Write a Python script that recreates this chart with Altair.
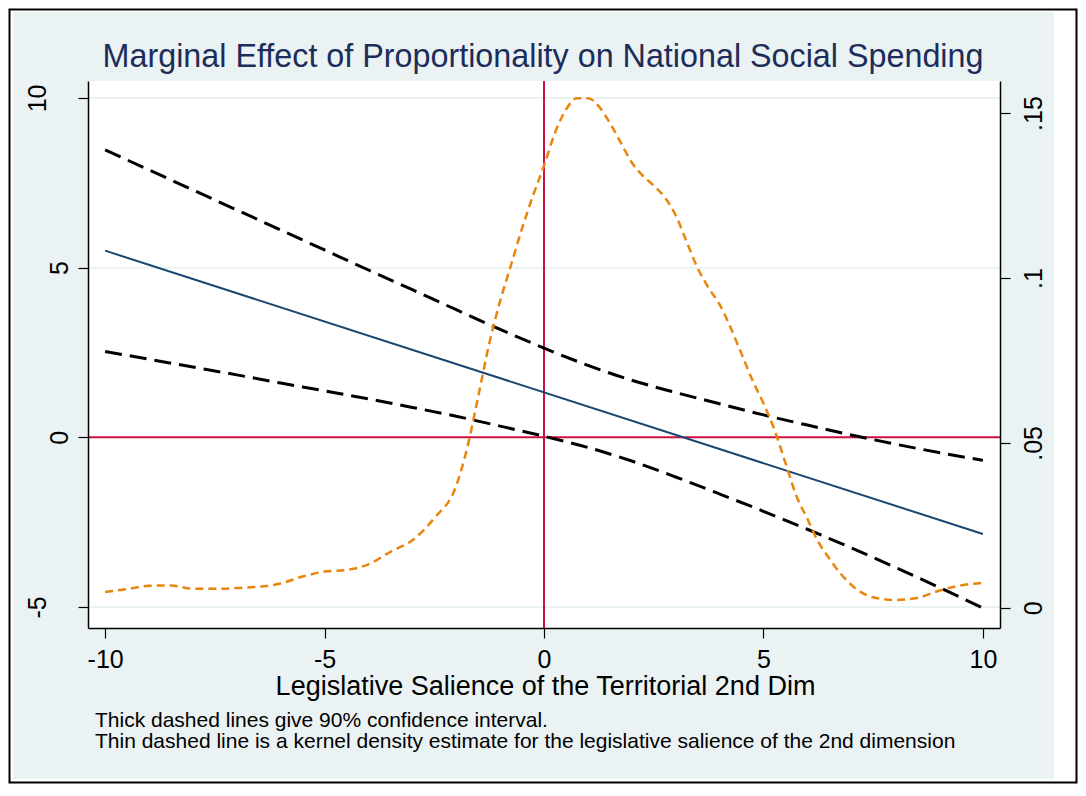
import altair as alt
import pandas as pd

# ---------------- data ----------------
ci_x = [-10, -9, -8, -7, -6, -5, -4, -3, -2, -1, 0, 1, 2, 3, 4, 5, 6, 7, 8, 9, 10]
ci_upper = [8.47, 7.88, 7.29, 6.70, 6.11, 5.52, 4.93, 4.35, 3.76, 3.18, 2.63,
            2.12, 1.68, 1.32, 0.99, 0.66, 0.36, 0.07, -0.20, -0.45, -0.68]
ci_lower = [2.53, 2.30, 2.07, 1.84, 1.60, 1.37, 1.13, 0.88, 0.62, 0.33, 0.03,
            -0.30, -0.70, -1.17, -1.67, -2.18, -2.71, -3.26, -3.83, -4.42, -5.03]

me_x = [-10, 10]
me_y = [5.50, -2.85]

dens_x = [-10, -9.5, -9, -8.5, -8, -7.5, -7, -6.5, -6, -5.5, -5, -4.5, -4, -3.5, -3, -2.5, -2,
          -1.75, -1.5, -1.25, -1, -0.75, -0.5, -0.25, 0, 0.25, 0.5, 0.75, 1, 1.25, 1.5, 1.75,
          2, 2.25, 2.5, 2.75, 3, 3.25, 3.5, 3.75, 4, 4.25, 4.5, 4.75, 5, 5.25, 5.5, 5.75,
          6, 6.25, 6.5, 6.75, 7, 7.5, 8, 8.5, 9, 9.5, 10]
dens_y = [0.0048, 0.0057, 0.0067, 0.0068, 0.0058, 0.0058, 0.0060, 0.0064, 0.0074, 0.0095,
          0.0110, 0.0115, 0.0132, 0.0170, 0.0205, 0.0272, 0.0370,
          0.0485, 0.0640, 0.0800, 0.0930, 0.1040, 0.1150, 0.1250, 0.1340, 0.1440, 0.1510,
          0.1545, 0.1545, 0.1520, 0.1470, 0.1410, 0.1350, 0.1310, 0.1280, 0.1245, 0.1190,
          0.1110, 0.1030, 0.0970, 0.0920, 0.0850, 0.0770, 0.0690, 0.0620, 0.0540, 0.0440,
          0.0340, 0.0270, 0.0200, 0.0150, 0.0105, 0.0070,
          0.0032, 0.0024, 0.0030, 0.0052, 0.0068, 0.0076]

x_ticks = [-10, -5, 0, 5, 10]
y_ticks = [-5, 0, 5, 10]
d_ticks = [0, 0.05, 0.1, 0.15]
grid_vals = [10, 5, -5]

TITLE = "Marginal Effect of Proportionality on National Social Spending"
X_TITLE = "Legislative Salience of the Territorial 2nd Dim"
NOTES = ["Thick dashed lines give 90% confidence interval.",
         "Thin dashed line is a kernel density estimate for the legislative salience of the 2nd dimension"]

# ---------------- styling ----------------
F = "Liberation Sans"
BG = "#EAF2F3"
NAVY = "#1A476F"
ORANGE = "#E8850D"
RED = "#CC1040"
TITLE_C = "#1C2D5A"

W, H = 912, 547

xscale = alt.Scale(domain=[-10.39, 10.39], nice=False, zero=False)
yscale = alt.Scale(domain=[-5.62, 10.50], nice=False, zero=False)
dscale = alt.Scale(domain=[-0.0061, 0.1597], nice=False, zero=False)

xaxis = alt.Axis(values=x_ticks, labelExpr="'' + datum.value", title=X_TITLE, grid=False,
                 domainColor="black", domainWidth=1.5, tickColor="black", tickSize=10, tickWidth=1.2,
                 labelFont=F, labelFontSize=25, labelColor="black", labelPadding=29,
                 labelBaseline="alphabetic", labelAlign="center", labelFlush=False, labelOverlap=False,
                 titleFont=F, titleFontSize=27, titleFontWeight="normal", titleColor="black",
                 titleX=457, titleY=66, titleBaseline="alphabetic", titleAlign="center", zindex=1)

yaxis = alt.Axis(values=y_ticks, labelExpr="'' + datum.value", title=None, grid=False, orient="left",
                 domainColor="black", domainWidth=1.5, tickColor="black", tickSize=10, tickWidth=1.2,
                 labelFont=F, labelFontSize=25, labelColor="black", labelAngle=270,
                 labelAlign="center", labelBaseline="alphabetic",
                 labelPadding={"condition": {"test": "datum.value == 10 || datum.value == -5", "value": 33},
                               "value": 11},
                 labelFlush=False, labelOverlap=False, zindex=1)

daxis = alt.Axis(values=d_ticks, title=None, grid=False, orient="right",
                 labelExpr="substring(format(datum.value, '.2~f'), datum.value == 0 ? 0 : 1)",
                 domainColor="black", domainWidth=1.5, tickColor="black", tickSize=10, tickWidth=1.2,
                 labelFont=F, labelFontSize=25, labelColor="black", labelAngle=270,
                 labelAlign="center", labelBaseline="alphabetic", labelPadding=31,
                 labelFlush=False, labelOverlap=False, zindex=1)


def X(field):
    return alt.X(field, type="quantitative", scale=xscale, axis=xaxis)


def Y(field):
    return alt.Y(field, type="quantitative", scale=yscale, axis=yaxis)


one = pd.DataFrame({"k": [0]})

# ---------------- decoration ----------------
light = alt.Chart(one).mark_rect(color=BG).encode(
    x=alt.value(-75), x2=alt.value(966), y=alt.value(-69), y2=alt.value(698))
whiteplot = alt.Chart(one).mark_rect(color="white").encode(
    x=alt.value(0), x2=alt.value(W), y=alt.value(0), y2=alt.value(H))
border = alt.Chart(one).mark_rect(fillOpacity=0, stroke="black", strokeWidth=2).encode(
    x=alt.value(-78.5), x2=alt.value(988.5), y=alt.value(-71.5), y2=alt.value(701.5))

# ---------------- left-scale layers ----------------
grid = alt.Chart(pd.DataFrame({"g": grid_vals})).mark_rule(color=BG, strokeWidth=2).encode(y=Y("g"))
red_h = alt.Chart(pd.DataFrame({"z": [0]})).mark_rule(color=RED, strokeWidth=2).encode(y=Y("z"))
red_v = alt.Chart(pd.DataFrame({"z": [0]})).mark_rule(color=RED, strokeWidth=2).encode(x=X("z"))

ci_df = pd.DataFrame({
    "x": ci_x + ci_x,
    "v": ci_upper + ci_lower,
    "bound": ["upper"] * len(ci_x) + ["lower"] * len(ci_x),
})
ci = alt.Chart(ci_df).mark_line(color="black", strokeWidth=3, strokeDash=[17, 8],
                                interpolate="monotone").encode(
    x=X("x"), y=Y("v"), detail="bound:N")

me = alt.Chart(pd.DataFrame({"x": me_x, "y": me_y})).mark_line(color=NAVY, strokeWidth=2).encode(
    x=X("x"), y=Y("y"))

left_group = alt.layer(grid, red_h, red_v, ci, me)

dens = alt.Chart(pd.DataFrame({"x": dens_x, "d": dens_y})).mark_line(
    color=ORANGE, strokeWidth=2.5, strokeDash=[8, 5], interpolate="monotone").encode(
    x=X("x"), y=alt.Y("d", type="quantitative", scale=dscale, axis=daxis))

# ---------------- texts ----------------
title = alt.Chart(pd.DataFrame({"t": [TITLE]})).mark_text(
    font=F, fontSize=32.3, color=TITLE_C, align="center", baseline="alphabetic").encode(
    text="t:N", x=alt.value(455), y=alt.value(-14))

notes = alt.Chart(one).mark_text(
    text=NOTES, font=F, fontSize=21, lineHeight=21, color="black", align="left",
    baseline="alphabetic").encode(x=alt.value(7), y=alt.value(646))

chart = alt.layer(light, whiteplot, border, left_group, dens, title, notes).resolve_scale(
    y="independent"
).properties(
    width=W, height=H,
    padding={"left": 80, "top": 73, "right": 78, "bottom": 156},
    autosize=alt.AutoSizeParams(type="none"),
    background="white",
).configure_view(strokeOpacity=0)

chart.save("out.html", embed_options={"renderer": "svg", "actions": False})
